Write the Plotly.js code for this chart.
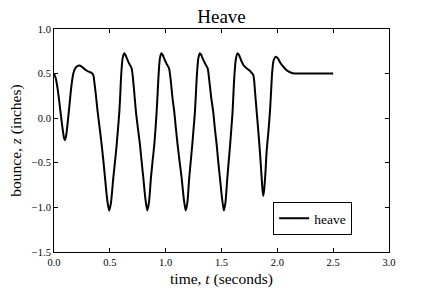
<!DOCTYPE html>
<html>
<head>
<meta charset="utf-8">
<script src="https://cdn.plot.ly/plotly-3.0.1.min.js"></script>
<style>html,body{margin:0;padding:0;background:#fff;}#chart{width:432px;height:288px;}</style>
</head>
<body>
<div id="chart"></div>
<script>
// time (seconds)
var timeS = [
  0.000, 0.015, 0.030, 0.045, 0.060, 0.075, 0.088, 0.098, 0.108, 0.120,
  0.137, 0.155, 0.173, 0.190, 0.210, 0.227, 0.245, 0.265, 0.285, 0.305,
  0.325, 0.340, 0.352, 0.362, 0.375, 0.391, 0.410, 0.427, 0.443, 0.457,
  0.470, 0.483, 0.495,
  0.510, 0.531, 0.547, 0.561, 0.573, 0.585, 0.594, 0.600, 0.613, 0.627,
  0.640, 0.653, 0.674, 0.695, 0.707, 0.720, 0.734, 0.752, 0.770, 0.785,
  0.800, 0.818, 0.835,
  0.850, 0.868, 0.883, 0.898, 0.909, 0.919, 0.928, 0.935, 0.947, 0.960,
  0.973, 0.986, 1.008, 1.030, 1.045, 1.060, 1.077, 1.092, 1.107, 1.125,
  1.143, 1.162, 1.179,
  1.194, 1.211, 1.225, 1.238, 1.250, 1.262, 1.271, 1.278, 1.291, 1.305,
  1.318, 1.331, 1.354, 1.376, 1.390, 1.407, 1.426, 1.441, 1.457, 1.471,
  1.486, 1.505, 1.521,
  1.535, 1.552, 1.565, 1.577, 1.588, 1.599, 1.607, 1.614, 1.628, 1.645,
  1.660, 1.675, 1.700, 1.725, 1.755, 1.785, 1.800, 1.815, 1.830, 1.844,
  1.857, 1.867, 1.874, 1.882, 1.893, 1.904, 1.920, 1.934, 1.945, 1.954,
  1.967, 1.987, 2.005, 2.025, 2.053, 2.080, 2.113, 2.140, 2.173, 2.250,
  2.350, 2.500
];
// bounce z (inches)
var heave = [
  0.500, 0.450, 0.350, 0.210, 0.050, -0.100, -0.210, -0.245, -0.200, -0.080,
  0.130, 0.350, 0.500, 0.560, 0.585, 0.590, 0.580, 0.560, 0.540, 0.525,
  0.515, 0.505, 0.484, 0.400, 0.260, 0.070, -0.120, -0.300, -0.490, -0.670,
  -0.840, -0.970, -1.035,
  -0.950, -0.670, -0.480, -0.300, -0.120, 0.070, 0.280, 0.450, 0.660, 0.727,
  0.710, 0.670, 0.610, 0.560, 0.450, 0.270, 0.070, -0.120, -0.300, -0.490,
  -0.670, -0.900, -1.035,
  -0.950, -0.670, -0.480, -0.300, -0.120, 0.070, 0.280, 0.450, 0.660, 0.727,
  0.710, 0.670, 0.610, 0.560, 0.430, 0.240, 0.070, -0.120, -0.300, -0.490,
  -0.670, -0.900, -1.035,
  -0.950, -0.670, -0.480, -0.300, -0.120, 0.070, 0.280, 0.450, 0.660, 0.727,
  0.710, 0.670, 0.610, 0.560, 0.430, 0.240, 0.070, -0.120, -0.300, -0.490,
  -0.670, -0.900, -1.035,
  -0.950, -0.670, -0.480, -0.300, -0.120, 0.070, 0.280, 0.450, 0.660, 0.727,
  0.700, 0.650, 0.590, 0.560, 0.530, 0.484, 0.300, 0.073, -0.150, -0.375,
  -0.620, -0.800, -0.870, -0.800, -0.620, -0.375, -0.150, 0.073, 0.320, 0.520,
  0.650, 0.690, 0.670, 0.625, 0.577, 0.540, 0.515, 0.505, 0.502, 0.500,
  0.500, 0.500
];
var xTicks = [0.0, 0.5, 1.0, 1.5, 2.0, 2.5, 3.0];
var yTicks = [-1.5, -1.0, -0.5, 0.0, 0.5, 1.0];

var serif = 'Liberation Serif, Times New Roman, DejaVu Serif, serif';

var trace = {
  x: timeS, y: heave, type: 'scatter', mode: 'lines', name: 'heave',
  line: {color: '#000', width: 2, shape: 'spline', smoothing: 0.6}
};

function axisBase(ticks) {
  return {
    tickmode: 'array', tickvals: ticks,
    ticktext: ticks.map(function(v){ return (v < 0 ? '\u2212' : '') + Math.abs(v).toFixed(1); }),
    ticks: 'inside', ticklen: 4, tickwidth: 1, tickcolor: '#000',
    showline: true, linecolor: '#000', linewidth: 1, mirror: 'ticks',
    showgrid: false, zeroline: false,
    tickfont: {family: serif, size: 10.5, color: '#000'}
  };
}

var xaxis = axisBase(xTicks);
xaxis.range = [0, 3];
xaxis.title = {text: 'time, <i>t</i> (seconds)', font: {family: serif, size: 15.5, color: '#000'}, standoff: 6};
var yaxis = axisBase(yTicks);
yaxis.range = [-1.5, 1.0];
yaxis.title = {text: 'bounce, <i>z</i> (inches)', font: {family: serif, size: 15.5, color: '#000'}, standoff: 6};

var layout = {
  width: 432, height: 288,
  margin: {l: 54, r: 43, t: 29, b: 36, pad: 0},
  paper_bgcolor: '#fff', plot_bgcolor: '#fff',
  title: {text: 'Heave', font: {family: serif, size: 19, color: '#000'},
          x: 0.5, xref: 'paper', y: 1 - 23/288, yref: 'container', yanchor: 'bottom'},
  xaxis: xaxis, yaxis: yaxis,
  showlegend: true,
  legend: {x: 0.890, y: 0.076, xanchor: 'right', yanchor: 'bottom',
           bgcolor: '#fff', bordercolor: '#000', borderwidth: 1,
           font: {family: serif, size: 13.5, color: '#000'}}
};

Plotly.newPlot('chart', [trace], layout, {staticPlot: true, displayModeBar: false});
</script>
</body>
</html>
